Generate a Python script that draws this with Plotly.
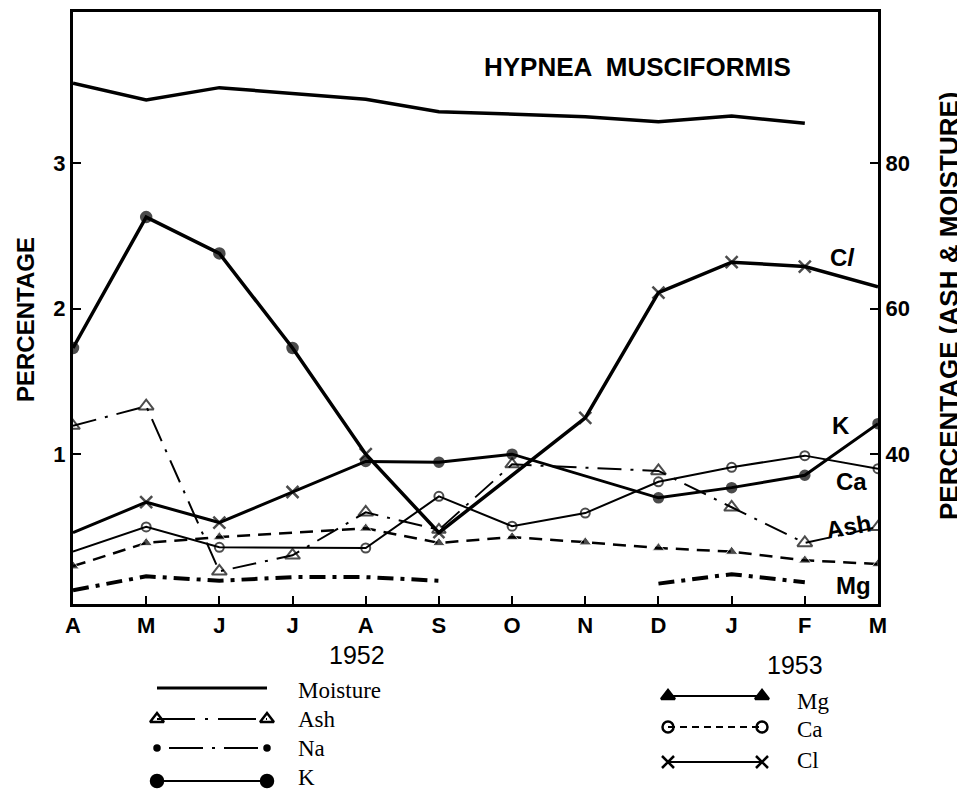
import plotly.graph_objects as go

# ---------------- data ----------------
months = ["A", "M", "J", "J", "A", "S", "O", "N", "D", "J", "F", "M"]
xi = list(range(len(months)))

# right axis (ash & moisture, %)
moisture = [91.0, 88.7, 90.4, 89.6, 88.8, 87.1, 86.8, 86.4, 85.7, 86.5, 85.5, None]
ash = [43.9, 46.6, 23.9, 26.1, 32.0, 29.6, 38.6, None, 37.7, 32.7, 27.8, 30.0]
# left axis (%)
cl = [1.73, 2.63, 2.38, 1.73, 1.00, 0.46, None, 1.25, 2.11, 2.32, 2.29, 2.15]
k = [0.46, 0.67, 0.53, 0.74, 0.95, 0.945, 1.00, None, 0.70, 0.77, 0.855, 1.21]
ca = [0.33, 0.50, 0.36, 0.36, 0.355, 0.71, 0.505, 0.595, 0.81, 0.91, 0.99, 0.90]
mg = [0.23, 0.39, 0.43, 0.46, 0.49, 0.39, 0.43, 0.395, 0.355, 0.33, 0.27, 0.245]
na = [0.065, 0.16, 0.13, 0.155, 0.155, 0.13, None, None, 0.11, 0.175, 0.12, None]

left_ticks = [1, 2, 3]
right_ticks = [40, 60, 80]

# marker symbols per point as printed in the figure
cl_sym = ["circle", "circle", "circle", "circle", "x-thin-open", "x-thin-open",
          "circle", "x-thin-open", "x-thin-open", "x-thin-open", "x-thin-open", "circle"]
cl_size = [10, 10, 10, 10, 12, 11, 0, 12, 12, 12, 12, 0]
k_sym = ["circle", "x-thin-open", "x-thin-open", "x-thin-open", "circle", "circle",
         "circle", "circle", "circle", "circle", "circle", "circle"]
k_size = [0, 12, 12, 12, 9, 9, 9, 0, 9, 9, 9, 9]
ca_size = [0, 9, 9, 0, 9, 9, 9, 9, 9, 9, 9, 9]
mg_size = [11, 11, 11, 0, 11, 11, 11, 11, 11, 11, 11, 11]
ash_size = [12, 13, 13, 13, 13, 12, 12, 0, 13, 13, 13, 12]

BLACK = "black"
SANS = "Liberation Sans"
SERIF = "Liberation Serif"

fig = go.Figure()

# ---------------- main series ----------------
fig.add_trace(go.Scatter(x=xi, y=moisture, yaxis="y2", mode="lines",
                         line=dict(color=BLACK, width=3.5), showlegend=False))
fig.add_trace(go.Scatter(x=xi, y=ash, yaxis="y2", mode="lines+markers", connectgaps=True,
                         line=dict(color=BLACK, width=2, dash="24px,9px,3px,9px"),
                         marker=dict(symbol="triangle-up-open", size=ash_size, color=BLACK,
                                     line=dict(color=BLACK, width=2)),
                         showlegend=False))
fig.add_trace(go.Scatter(x=xi, y=cl, mode="lines+markers", connectgaps=True,
                         line=dict(color=BLACK, width=3.5),
                         marker=dict(symbol=cl_sym, size=cl_size, color=BLACK,
                                     line=dict(color=BLACK, width=2.5)),
                         showlegend=False))
fig.add_trace(go.Scatter(x=xi, y=k, mode="lines+markers", connectgaps=True,
                         line=dict(color=BLACK, width=3),
                         marker=dict(symbol=k_sym, size=k_size, color=BLACK,
                                     line=dict(color=BLACK, width=2.5)),
                         showlegend=False))
fig.add_trace(go.Scatter(x=xi, y=ca, mode="lines+markers",
                         line=dict(color=BLACK, width=2),
                         marker=dict(symbol="circle-open", size=ca_size, color=BLACK,
                                     line=dict(color=BLACK, width=2)),
                         showlegend=False))
fig.add_trace(go.Scatter(x=xi, y=mg, mode="lines+markers",
                         line=dict(color=BLACK, width=2.5, dash="13px,8px"),
                         marker=dict(symbol="triangle-up", size=mg_size, color=BLACK),
                         showlegend=False))
fig.add_trace(go.Scatter(x=xi, y=na, mode="lines", connectgaps=False,
                         line=dict(color=BLACK, width=4, dash="16px,7px,4px,7px"),
                         showlegend=False))

# ---------------- page geometry ----------------
# The page body has an 8px default margin, so the figure is drawn shifted by 8px.
OFF = 8
W, H = 965, 789
PLOT_LEFT, PLOT_RIGHT, PLOT_TOP, PLOT_BOTTOM = 73, 878, 12, 604   # wanted page pixels
L = PLOT_LEFT - OFF
R = W - (PLOT_RIGHT - OFF)
T = PLOT_TOP - OFF
B = 0
plot_h = H - T - B
main_bottom = (H - (PLOT_BOTTOM - OFF)) / plot_h


def px(xp):
    return (xp - PLOT_LEFT) / (PLOT_RIGHT - PLOT_LEFT)


def py(yp):
    return (H - (yp - OFF)) / plot_h


# ---------------- hand-drawn style key (helper axes in page pixel units) ----------------
KEY_X_LEFT = [157, 267]
KEY_X_RIGHT = [668, 762]
key_left = [
    dict(y=688, line=dict(width=3), sym=None, size=0),
    dict(y=719, line=dict(width=2, dash="38px,10px,3px,10px"), sym="triangle-up-open", size=12),
    dict(y=748, line=dict(width=2, dash="3px,9px,34px,9px"), sym="circle", size=5),
    dict(y=781, line=dict(width=2), sym="circle", size=12),
]
key_right = [
    dict(y=696, line=dict(width=2), sym="triangle-up", size=12),
    dict(y=727, line=dict(width=2, dash="7px,5px"), sym="circle-open", size=11),
    dict(y=762, line=dict(width=2), sym="x-thin-open", size=12),
]
for group, xs in ((key_left, KEY_X_LEFT), (key_right, KEY_X_RIGHT)):
    for item in group:
        ln = dict(color=BLACK, **item["line"])
        if item["sym"] is None:
            fig.add_trace(go.Scatter(x=xs, y=[item["y"], item["y"]], xaxis="x3", yaxis="y3",
                                     mode="lines", line=ln, showlegend=False))
            continue
        fig.add_trace(go.Scatter(x=xs, y=[item["y"], item["y"]], xaxis="x3", yaxis="y3",
                                 mode="lines+markers", line=ln,
                                 marker=dict(symbol=item["sym"], size=item["size"], color=BLACK,
                                             line=dict(color=BLACK, width=2.5)),
                                 showlegend=False))

TICKFONT = dict(family=SANS, size=22, weight="bold", color=BLACK)

fig.update_layout(
    width=W, height=H,
    margin=dict(l=L, r=R, t=T, b=B, autoexpand=False),
    paper_bgcolor="white", plot_bgcolor="white",
    showlegend=False,
    font=dict(family=SANS, color=BLACK),
    xaxis=dict(domain=[0, 1], range=[0, 11], tickvals=xi, ticktext=months,
               ticks="inside", ticklen=8, tickwidth=2, tickcolor=BLACK,
               showline=True, linewidth=3, linecolor=BLACK, mirror=True,
               showgrid=False, zeroline=False, automargin=False,
               tickfont=TICKFONT),
    yaxis=dict(domain=[main_bottom, 1], range=[-0.03, 4.04], tickvals=left_ticks,
               ticks="inside", ticklen=8, tickwidth=2, tickcolor=BLACK,
               showline=True, linewidth=3, linecolor=BLACK,
               showgrid=False, zeroline=False, automargin=False,
               tickfont=TICKFONT),
    yaxis2=dict(overlaying="y", side="right", range=[19.4, 100.8], tickvals=right_ticks,
                ticks="inside", ticklen=8, tickwidth=2, tickcolor=BLACK,
                showline=True, linewidth=3, linecolor=BLACK,
                showgrid=False, zeroline=False, automargin=False,
                tickfont=TICKFONT),
    xaxis3=dict(domain=[0, 1], range=[PLOT_LEFT, PLOT_RIGHT], anchor="y3", visible=False,
                automargin=False),
    yaxis3=dict(domain=[0, main_bottom], range=[H + OFF, PLOT_BOTTOM], anchor="x3",
                visible=False, automargin=False),
)

ann = []
# series labels (data coords)
for txt, xv, yv in [("C<i>l</i>", 10.52, 2.35), ("K", 10.5, 1.20), ("Ca", 10.64, 0.81),
                    ("Ash", 10.6, 0.50), ("Mg", 10.66, 0.10)]:
    ann.append(dict(text=txt, x=xv, y=yv, xref="x", yref="y", showarrow=False,
                    xanchor="center", yanchor="middle",
                    font=dict(family=SANS, size=24, weight="bold", color=BLACK),
                    textangle=-10 if txt == "Ash" else 0))


def paper_text(txt, xp_, yp_, size, weight="normal", family=SANS, angle=0, xanchor="center"):
    return dict(text=txt, x=px(xp_), y=py(yp_), xref="paper", yref="paper",
                xanchor=xanchor, yanchor="middle", showarrow=False, textangle=angle,
                font=dict(family=family, size=size, weight=weight, color=BLACK))


ann.append(paper_text("HYPNEA  MUSCIFORMIS", 637, 67, 26, "bold"))
ann.append(paper_text("PERCENTAGE", 25, 320, 24, "bold", angle=-90))
ann.append(paper_text("PERCENTAGE (ASH & MOISTURE)", 949, 306, 26, "bold", angle=-90))
ann.append(paper_text("1952", 357, 655, 25))
ann.append(paper_text("1953", 795, 665, 25))
# key labels
for txt, xp_, yp_ in [("Moisture", 296, 690), ("Ash", 296, 719), ("Na", 296, 748), ("K", 296, 777),
                      ("Mg", 795, 701), ("Ca", 795, 729), ("Cl", 795, 760)]:
    ann.append(paper_text(txt, xp_, yp_, 23, family=SERIF, xanchor="left"))

fig.update_layout(annotations=ann)
fig.write_html("out.html")
